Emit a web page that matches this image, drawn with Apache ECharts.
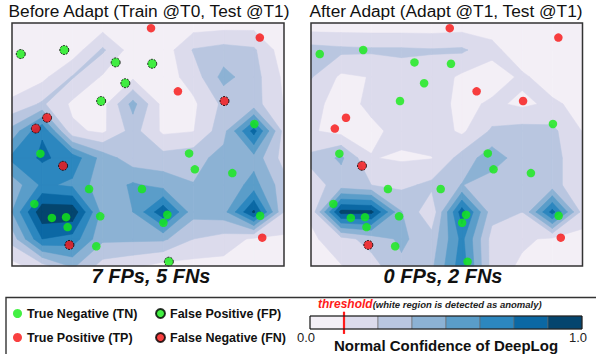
<!DOCTYPE html>
<html>
<head>
<meta charset="utf-8">
<script src="https://cdn.jsdelivr.net/npm/echarts@6/dist/echarts.min.js"></script>
<style>
  html, body { margin: 0; padding: 0; background: #fff; }
  #chart { width: 596px; height: 354px; }
</style>
</head>
<body>
<div id="chart"></div>
<script>
// contour levels + colours (PuBu-ish, 8 bands)
const levels = [0, 0.125, 0.25, 0.375, 0.5, 0.625, 0.75, 0.875, 1];
const levelColors = ['#f3eff6', '#dcdbec', '#b9c6e0', '#8cb2d4', '#5a9dc9', '#2c87bf', '#0b68a4', '#04456e'];
const threshold = 0.125;

// normal confidence on a 10x10 grid (rows top -> bottom)
const confBefore = [
  [0.05, 0.04, 0.04, 0.05, 0.04, 0.04, 0.05, 0.06, 0.07, 0.04],
  [0.04, 0.05, 0.05, 0.27, 0.06, 0.05, 0.26, 0.30, 0.27, 0.05],
  [0.05, 0.09, 0.26, 0.11, 0.10, 0.06, 0.18, 0.42, 0.30, 0.10],
  [0.15, 0.27, 0.10, 0.08, 0.42, 0.08, 0.10, 0.28, 0.30, 0.12],
  [0.42, 0.74, 0.15, 0.10, 0.30, 0.10, 0.12, 0.33, 0.80, 0.20],
  [0.66, 0.77, 0.70, 0.45, 0.30, 0.30, 0.33, 0.42, 0.45, 0.20],
  [0.42, 0.65, 0.60, 0.42, 0.52, 0.45, 0.38, 0.40, 0.55, 0.30],
  [0.50, 0.97, 0.97, 0.45, 0.50, 0.85, 0.42, 0.45, 0.90, 0.25],
  [0.30, 0.75, 0.70, 0.40, 0.40, 0.40, 0.25, 0.20, 0.10, 0.10],
  [0.08, 0.20, 0.40, 0.20, 0.15, 0.08, 0.08, 0.08, 0.06, 0.05]
];
const confAfter = [
  [0.04, 0.04, 0.04, 0.04, 0.04, 0.05, 0.05, 0.05, 0.05, 0.05],
  [0.30, 0.28, 0.27, 0.27, 0.26, 0.27, 0.17, 0.03, 0.05, 0.05],
  [0.26, 0.10, 0.13, 0.20, 0.20, 0.10, 0.05, 0.15, 0.05, 0.05],
  [0.16, 0.08, 0.15, 0.20, 0.20, 0.08, 0.15, 0.10, 0.15, 0.08],
  [0.14, 0.08, 0.10, 0.16, 0.20, 0.10, 0.27, 0.30, 0.28, 0.12],
  [0.28, 0.40, 0.13, 0.11, 0.12, 0.30, 0.45, 0.30, 0.30, 0.15],
  [0.20, 0.30, 0.25, 0.22, 0.28, 0.38, 0.30, 0.28, 0.30, 0.15],
  [0.15, 0.92, 0.91, 0.38, 0.15, 0.82, 0.30, 0.25, 0.80, 0.20],
  [0.10, 0.20, 0.30, 0.40, 0.30, 0.66, 0.20, 0.15, 0.10, 0.08],
  [0.06, 0.12, 0.20, 0.35, 0.35, 0.70, 0.20, 0.10, 0.06, 0.06]
];

// test samples (same positions in both panels, grid units)
const ptX = [4.60, 8.20, 0.29, 1.73, 3.43, 4.64, 3.75, 5.49, 2.95, 7.03, 1.16, 0.79, 8.02, 0.94, 1.69, 5.86,
             6.05, 7.29, 2.55, 4.30, 0.74, 1.32, 1.79, 1.84, 2.92, 5.14, 5.01, 8.21, 8.28, 1.90, 2.79, 5.19];
const ptY = [0.19, 0.54, 1.15, 1.00, 1.46, 1.51, 2.23, 2.53, 2.89, 2.89, 3.51, 3.91, 3.74, 4.84, 5.29, 4.83,
             5.42, 5.56, 6.15, 6.15, 6.70, 7.22, 7.19, 7.56, 7.16, 7.10, 7.40, 7.14, 7.95, 8.22, 8.27, 8.84];
const classBefore = ['TP', 'TP', 'FP', 'FP', 'FP', 'FP', 'FP', 'TP', 'FP', 'FN', 'FN', 'FN', 'TN', 'TN', 'FN', 'TN',
                     'TN', 'TN', 'TN', 'TN', 'TN', 'TN', 'TN', 'TN', 'TN', 'TN', 'TN', 'TN', 'TP', 'FN', 'TN', 'FP'];
const classAfter = ['TP', 'TP', 'TN', 'TN', 'TN', 'TN', 'TN', 'TP', 'TN', 'TP', 'TP', 'TP', 'TN', 'TN', 'FN', 'TN',
                    'TN', 'TN', 'TN', 'TN', 'TN', 'TN', 'TN', 'TN', 'TN', 'TN', 'TN', 'TN', 'TP', 'FN', 'TN', 'TN'];

const panelTitles = ['Before Adapt (Train @T0, Test @T1)', 'After Adapt (Adapt @T1, Test @T1)'];
const panelNotes = ['7 FPs, 5 FNs', '0 FPs, 2 FNs'];
const classNames = { TN: 'True Negative (TN)', FP: 'False Positive (FP)', TP: 'True Positive (TP)', FN: 'False Negative (FN)' };

const FONT = '"Liberation Sans", Arial, sans-serif';
const GREEN = '#14ec14';
const RED = '#f81010';

const classStyle = {
  TN: { color: GREEN },
  FP: { color: GREEN, borderColor: '#000', borderWidth: 1, borderType: [2, 1.2] },
  TP: { color: RED },
  FN: { color: RED, borderColor: '#000', borderWidth: 1, borderType: [2, 1.2] }
};

// grid cells
const cells = [];
for (let r = 0; r < 9; r++) for (let c = 0; c < 9; c++) cells.push([c, r]);

// filled contour bands, one cell at a time (z2 keeps higher bands on top across cells)
const contourItem = (conf) => (params, api) => {
  const c = api.value(0), r = api.value(1);
  const corners = [[c, r], [c + 1, r], [c + 1, r + 1], [c, r + 1]];
  const vals = corners.map((p) => conf[p[1]][p[0]]);
  const children = [];
  for (let k = 0; k < levelColors.length; k++) {
    const t = levels[k];
    const pts = [];
    for (let i = 0; i < 4; i++) {
      const j = (i + 1) % 4, a = vals[i], b = vals[j];
      if (a >= t) pts.push(corners[i]);
      if ((a >= t) !== (b >= t)) {
        const f = (t - a) / (b - a);
        pts.push([corners[i][0] + f * (corners[j][0] - corners[i][0]),
                  corners[i][1] + f * (corners[j][1] - corners[i][1])]);
      }
    }
    if (pts.length < 3) continue;
    children.push({
      type: 'polygon',
      z2: k,
      shape: { points: pts.map((p) => api.coord(p)) },
      style: { fill: levelColors[k], stroke: levelColors[k], lineWidth: 0.5 }
    });
  }
  return { type: 'group', children };
};

const pointSeries = (classes, idx) =>
  ['TN', 'FP', 'TP', 'FN'].map((cls) => ({
    name: classNames[cls],
    type: 'scatter',
    xAxisIndex: idx,
    yAxisIndex: idx,
    z: 5,
    symbol: 'circle',
    symbolSize: cls === 'TN' || cls === 'TP' ? 8.5 : 9,
    itemStyle: classStyle[cls],
    data: ptX.map((x, i) => [x, ptY[i]]).filter((p, i) => classes[i] === cls)
  }));

const panelAxis = (idx) => ({ gridIndex: idx, type: 'value', min: 0, max: 9, show: false });
const legendText = { fontFamily: FONT, fontSize: 12.5, fontWeight: 'bold', color: '#111' };

const chart = echarts.init(document.getElementById('chart'), null, { renderer: 'svg' });

chart.setOption({
  animation: false,
  textStyle: { fontFamily: FONT },
  title: [
    { text: panelTitles[0], left: 149, top: 2, textAlign: 'center', padding: 0,
      textStyle: { fontFamily: FONT, fontSize: 17.3, fontWeight: 'normal', color: '#111' } },
    { text: panelTitles[1], left: 446, top: 2, textAlign: 'center', padding: 0,
      textStyle: { fontFamily: FONT, fontSize: 17.3, fontWeight: 'normal', color: '#111' } },
    { text: panelNotes[0], left: 151, top: 266, textAlign: 'center', padding: 0,
      textStyle: { fontFamily: FONT, fontSize: 20, fontWeight: 'bold', fontStyle: 'italic', color: '#111' } },
    { text: panelNotes[1], left: 443, top: 266, textAlign: 'center', padding: 0,
      textStyle: { fontFamily: FONT, fontSize: 20, fontWeight: 'bold', fontStyle: 'italic', color: '#111' } },
    { text: '{a|threshold}{b|(white region is detected as anomaly)}', left: 318, top: 298, padding: 0,
      textStyle: {
        rich: {
          a: { fontFamily: FONT, fontSize: 12, fontWeight: 'bold', fontStyle: 'italic', color: '#ff1a1a' },
          b: { fontFamily: FONT, fontSize: 9.5, fontStyle: 'italic', color: '#222' }
        }
      } }
  ],
  legend: [
    { left: 13, top: 307, padding: 0, orient: 'vertical', itemWidth: 9, itemHeight: 9, itemGap: 11, icon: 'circle',
      data: [classNames.TN, classNames.TP], textStyle: legendText },
    { left: 155, top: 307, padding: 0, orient: 'vertical', itemWidth: 9, itemHeight: 9, itemGap: 11, icon: 'circle',
      data: [classNames.FP, classNames.FN], textStyle: legendText }
  ],
  grid: [
    { left: 12, top: 23, width: 272, height: 243, outerBoundsMode: 'none' },
    { left: 311, top: 23, width: 271.5, height: 243, outerBoundsMode: 'none' },
    { left: 310, top: 316, width: 272, height: 13, outerBoundsMode: 'none' }
  ],
  xAxis: [
    panelAxis(0),
    panelAxis(1),
    { gridIndex: 2, type: 'value', min: 0, max: 1, interval: 1,
      axisLine: { show: false }, axisTick: { show: false }, splitLine: { show: false },
      axisLabel: { fontFamily: FONT, fontSize: 13, color: '#222', margin: 2, padding: [0, 8, 0, 0],
                   formatter: (v) => v.toFixed(1) },
      name: 'Normal Confidence of DeepLog', nameLocation: 'middle', nameGap: 9, nameMoveOverlap: false,
      nameTextStyle: { fontFamily: FONT, fontSize: 15, fontWeight: 'bold', color: '#111', verticalAlign: 'top' } }
  ],
  yAxis: [
    Object.assign(panelAxis(0), { inverse: true }),
    Object.assign(panelAxis(1), { inverse: true }),
    { gridIndex: 2, type: 'value', min: 0, max: 1, show: false }
  ],
  series: [
    { type: 'custom', xAxisIndex: 0, yAxisIndex: 0, z: 1, data: cells, renderItem: contourItem(confBefore), silent: true },
    { type: 'custom', xAxisIndex: 1, yAxisIndex: 1, z: 1, data: cells, renderItem: contourItem(confAfter), silent: true },
    ...pointSeries(classBefore, 0),
    ...pointSeries(classAfter, 1),
    // colour bar
    { type: 'custom', xAxisIndex: 2, yAxisIndex: 2, z: 1, silent: true,
      data: levelColors.map((c, k) => [levels[k], levels[k + 1]]),
      renderItem: (params, api) => {
        const p0 = api.coord([api.value(0), 1]);
        const p1 = api.coord([api.value(1), 0]);
        return { type: 'rect', shape: { x: p0[0], y: p0[1], width: p1[0] - p0[0], height: p1[1] - p0[1] },
                 style: { fill: levelColors[params.dataIndex], stroke: '#666', lineWidth: 0.6 } };
      } },
    { type: 'custom', xAxisIndex: 2, yAxisIndex: 2, z: 4, silent: true, clip: false,
      data: [[threshold]],
      renderItem: (params, api) => {
        const a = api.coord([api.value(0), 1.33]);
        const b = api.coord([api.value(0), -0.38]);
        return { type: 'line', shape: { x1: a[0], y1: a[1], x2: b[0], y2: b[1] },
                 style: { stroke: '#ff1a1a', lineWidth: 2.2 } };
      } }
  ],
  graphic: [
    { type: 'rect', z: 10, silent: true, shape: { x: 12, y: 23, width: 272, height: 243 },
      style: { fill: 'none', stroke: '#333', lineWidth: 1.5 } },
    { type: 'rect', z: 10, silent: true, shape: { x: 311, y: 23, width: 271.5, height: 243 },
      style: { fill: 'none', stroke: '#333', lineWidth: 1.5 } },
    { type: 'rect', z: 10, silent: true, shape: { x: 310, y: 316, width: 272, height: 13 },
      style: { fill: 'none', stroke: '#111', lineWidth: 1 } },
    { type: 'rect', z: 0, silent: true, shape: { x: 6, y: 297.5, width: 620, height: 80 },
      style: { fill: 'none', stroke: '#333', lineWidth: 1.4 } }
  ]
});
</script>
</body>
</html>
